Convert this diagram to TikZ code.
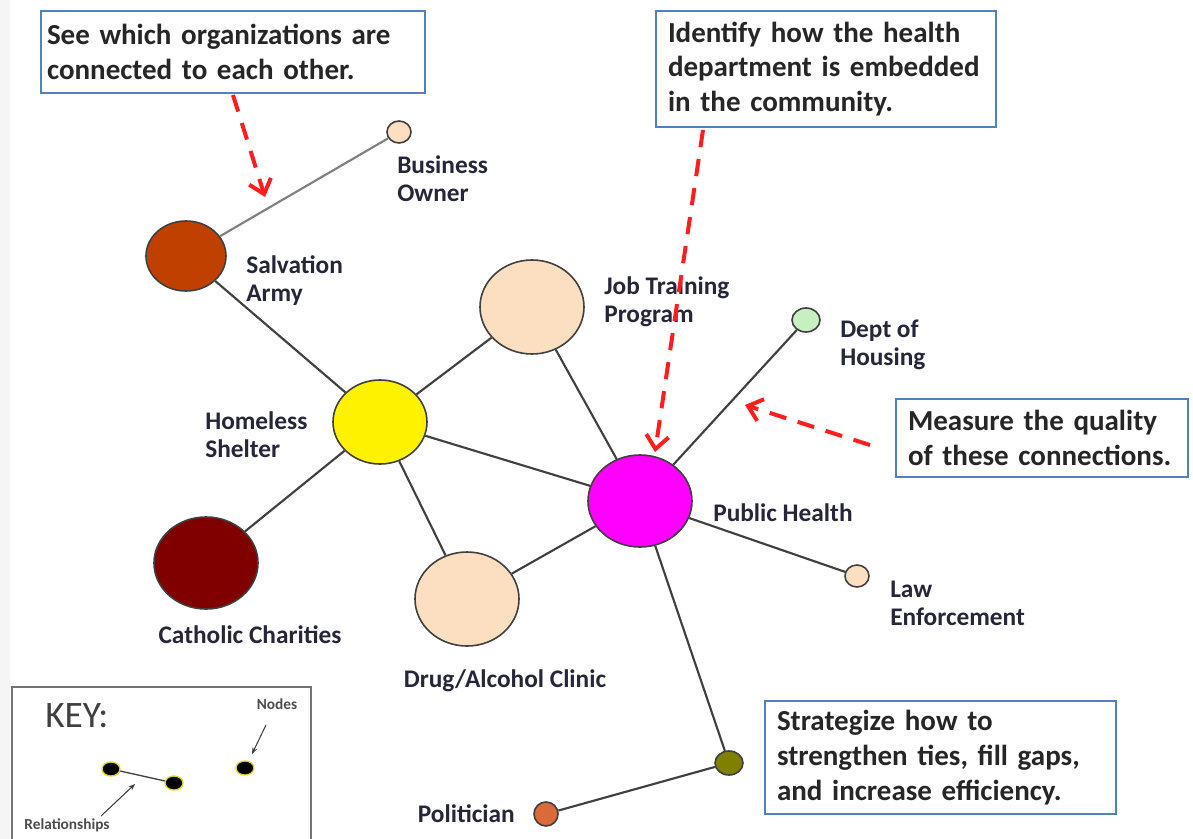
\documentclass[tikz,border=0pt]{standalone}
\usepackage{fontspec}
\setmainfont{Carlito}
\usetikzlibrary{shapes.geometric,arrows.meta}

\definecolor{boxblue}{RGB}{79,129,189}
\definecolor{edgegray}{RGB}{64,64,64}
\definecolor{labelink}{RGB}{38,38,58}
\definecolor{peach}{RGB}{252,222,192}
\definecolor{rust}{RGB}{192,64,0}
\definecolor{maroon}{RGB}{128,0,0}
\definecolor{mint}{RGB}{198,240,192}
\definecolor{olive}{RGB}{128,128,0}
\definecolor{clay}{RGB}{218,106,58}
\definecolor{pinkish}{RGB}{255,0,255}
\definecolor{arrowred}{RGB}{255,30,30}

\begin{document}
\begin{tikzpicture}[x=0.75pt,y=0.75pt,yscale=-1,xscale=1,
		org/.style n args={3}{ellipse, draw=edgegray, line width=1.2pt, fill=#1, minimum width=#2, minimum height=#3, inner sep=0pt},
		tie/.style={draw=edgegray, line width=1.6pt},
		orglabel/.style={font=\bfseries\fontsize{19}{21}\selectfont, text=labelink, align=left, inner sep=0pt},
		callout/.style={draw=boxblue, line width=1.5pt, fill=white, font=\bfseries\fontsize{21.75}{26}\selectfont, text=black!85, align=left, inner xsep=9pt, anchor=north west},
		hint/.style={draw=arrowred, line width=3pt, dash pattern=on 13pt off 9pt, -{Straight Barb[length=10pt,width=17pt,line width=3pt]}},
		keydot/.style={ellipse, draw=yellow!85!black, line width=1pt, fill=black, minimum width=13.5pt, minimum height=10.5pt, inner sep=0pt},
		keytext/.style={font=\bfseries\fontsize{11.5}{13}\selectfont, text=black!70, inner sep=0pt}]
		\useasboundingbox (0,0) rectangle (1193,839);
		% left edge shade
		\fill[black!4] (0,0) rectangle (10,839);
		
		% Organisations
		\node[org={peach}{18pt}{16.5pt}] (owner) at (399,132) {};
		\node[org={rust}{60pt}{52.5pt}] (salvation) at (186,256) {};
		\node[org={peach}{78pt}{70.5pt}] (jobs) at (532,307) {};
		\node[org={mint}{21pt}{18pt}] (housing) at (806,320) {};
		\node[org={yellow}{70.5pt}{63pt}] (shelter) at (380,422) {};
		\node[org={pinkish}{78pt}{69pt}] (health) at (640,501) {};
		\node[org={maroon}{78pt}{69pt}] (catholic) at (206,563) {};
		\node[org={peach}{78pt}{70.5pt}] (clinic) at (467,599) {};
		\node[org={peach}{18pt}{16.5pt}] (law) at (857,576) {};
		\node[org={olive}{21pt}{18pt}] (link) at (729,763) {};
		\node[org={clay}{18pt}{18pt}] (politician) at (546,814) {};
		
		% Relationships
		\draw[tie, draw=gray] (owner) -- (salvation);
		\draw[tie] (salvation) -- (shelter);
		\draw[tie] (shelter) -- (jobs);
		\draw[tie] (shelter) -- (health);
		\draw[tie] (shelter) -- (catholic);
		\draw[tie] (shelter) -- (clinic);
		\draw[tie] (jobs) -- (health);
		\draw[tie] (health) -- (housing);
		\draw[tie] (health) -- (law);
		\draw[tie] (health) -- (clinic);
		\draw[tie] (health) -- (link);
		\draw[tie] (link) -- (politician);
		
		% Text Node
		\node[orglabel, anchor=west] (ownerlbl) at (397,179) {Business\\Owner};
		\node[orglabel, anchor=west] (salvationlbl) at (246,281) {Salvation\\Army};
		\node[orglabel, anchor=west] (jobslbl) at (604,302) {Job Training\\Program};
		\node[orglabel, anchor=west] (housinglbl) at (840,345) {Dept of\\Housing};
		\node[orglabel, anchor=west] (shelterlbl) at (205,435) {Homeless\\Shelter};
		\node[orglabel, anchor=west] (healthlbl) at (713,513) {Public Health};
		\node[orglabel] (catholiclbl) at (250,635) {Catholic Charities};
		\node[orglabel] (cliniclbl) at (505,681) {Drug/Alcohol Clinic};
		\node[orglabel, anchor=west] (lawlbl) at (890,603) {Law\\Enforcement};
		\node[orglabel, anchor=east] (politicianlbl) at (515,814) {Politician};
		
		% Callouts
		\node[callout, inner xsep=4.5pt, text width=279pt, minimum height=61.5pt] (see) at (40,10) {See which organizations are\\connected to each other.};
		\node[callout, text width=237pt, minimum height=87pt] (identify) at (655,10) {Identify how the health\\department is embedded\\in the community.};
		\node[callout, text width=201pt, minimum height=58.5pt] (measure) at (895,398) {Measure the quality\\of these connections.};
		\node[callout, text width=245pt, minimum height=84.75pt] (strategize) at (764,700) {Strategize how to\\strengthen ties, fill gaps,\\and increase efficiency.};
		
		% Pointers
		\coordinate (seetip) at (265,197);
		\coordinate (identifytip) at (655,452);
		\coordinate (measuretip) at (745,405);
		\draw[hint] (233,95) -- (seetip);
		\draw[hint] (703,130) -- (identifytip);
		\draw[hint] (870,445) -- (measuretip);
		
		% Key
		\draw[black!55, line width=0.8pt] (12,845) -- (12,687) -- (311,687) -- (311,845);
		\node[font=\fontsize{28}{32}\selectfont, text=black!75, anchor=west, inner sep=0pt] (keytitle) at (45,716) {KEY:};
		\node[keydot] (keya) at (111,769) {};
		\node[keydot] (keyb) at (174,783) {};
		\node[keydot] (keyc) at (245,768) {};
		\draw[black!75, line width=1pt] (keya) -- (keyb);
		\node[keytext] (nodeslbl) at (277,704) {Nodes};
		\node[keytext] (relslbl) at (67,825) {Relationships};
		\coordinate (nodestail) at (266,725);
		\coordinate (relstip) at (135,784);
		\draw[black!75, line width=0.8pt, -{Stealth[length=5pt]}] (nodestail) -- (252,754);
		\draw[black!75, line width=0.8pt, -{Stealth[length=5pt]}] (101,816) -- (relstip);
		
\end{tikzpicture}
\end{document}
